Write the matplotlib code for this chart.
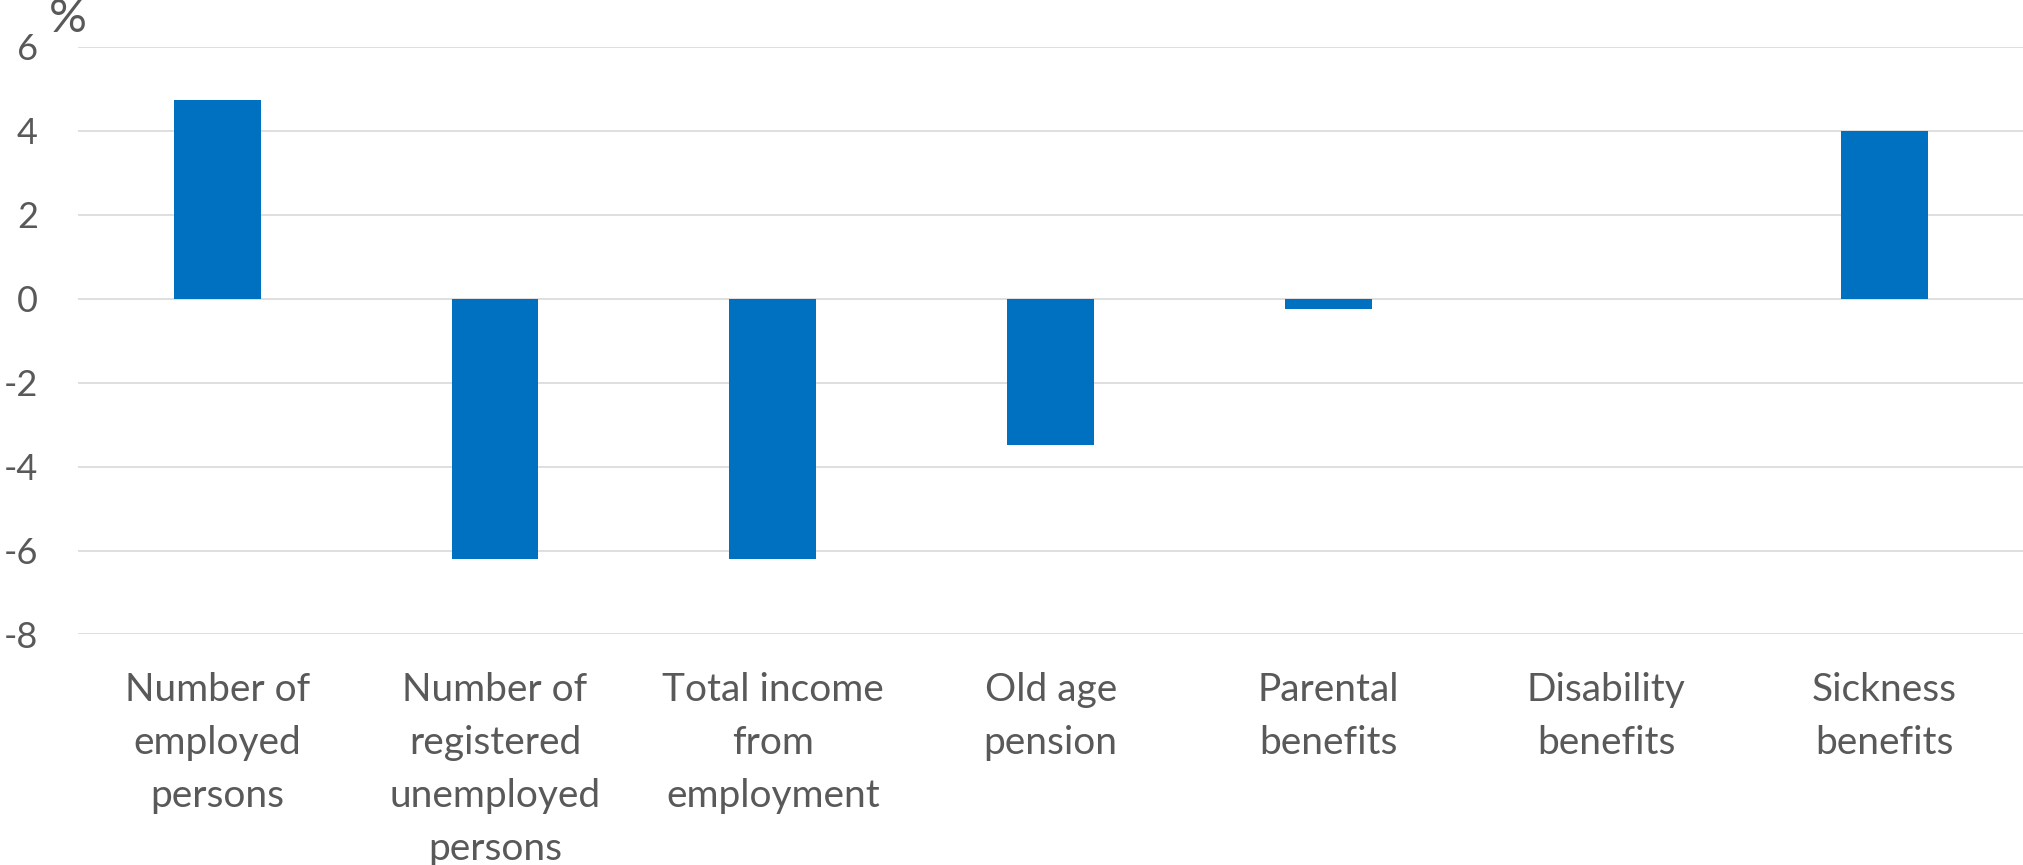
import matplotlib
matplotlib.use("Agg")
import matplotlib.pyplot as plt
import numpy as np

# % change by category
categories = ["Number of\nemployed\npersons",
              "Number of\nregistered\nunemployed\npersons",
              "Total income\nfrom\nemployment",
              "Old age\npension",
              "Parental\nbenefits",
              "Disability\nbenefits",
              "Sickness\nbenefits"]
values = [4.73, -6.2, -6.2, -3.49, -0.24, 0.0, 4.0]
yticks = [-8, -6, -4, -2, 0, 2, 4, 6]

txt = "#595959"
plt.rcParams['font.family'] = ['Lato', 'DejaVu Sans']

fig = plt.figure(figsize=(20.23, 8.65), dpi=100)
ax = fig.add_axes([0.0387, 0.2665, 0.9613, 0.6795])

x = np.arange(len(categories))
ax.bar(x, values, width=0.313, color="#0070C0", zorder=3)

ax.set_xlim(-0.5, len(categories) - 0.5)
ax.set_ylim(-8, 6)
ax.set_yticks(yticks)
ax.set_yticklabels([str(t) for t in yticks])
ax.set_xticks(x)
ax.set_xticklabels(categories, linespacing=1.59)
ax.tick_params(axis="y", length=0, pad=29, labelsize=26, labelcolor=txt)
ax.tick_params(axis="x", length=0, pad=27, labelsize=28, labelcolor=txt)

ax.grid(axis="y", color="#D9D9D9", linewidth=1.2, zorder=0)
for s in ax.spines.values():
    s.set_visible(False)

fig.text(68 / 2023, 1 - 19 / 865, "%", fontsize=34, color=txt,
         ha="center", va="center")

fig.savefig("out.png", dpi=100)
